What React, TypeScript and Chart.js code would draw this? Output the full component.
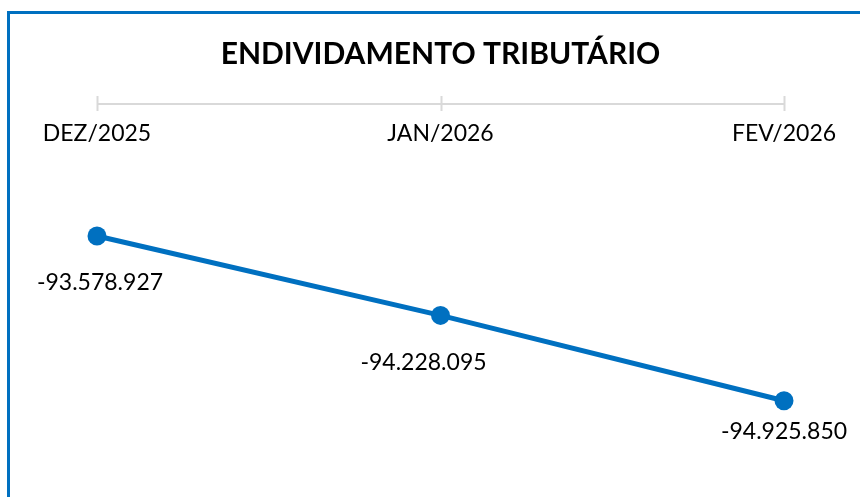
import React, { useEffect, useRef } from "react";
import { Chart, registerables } from "chart.js";

Chart.register(...registerables);

const TITLE = "ENDIVIDAMENTO TRIBUTÁRIO";
const categories = ["DEZ/2025", "JAN/2026", "FEV/2026"];
const debtValues = [-93578927, -94228095, -94925850];
const yMin = -95500000;
const yMax = -92500000;

const BLUE = "#0070C0";
const FONT = "Lato, 'Open Sans', sans-serif";

function formatBR(v: number): string {
  const neg = v < 0;
  const s = Math.round(Math.abs(v)).toString().replace(/\B(?=(\d{3})+(?!\d))/g, ".");
  return (neg ? "-" : "") + s;
}

const axisAndLabels = {
  id: "axisAndLabels",
  afterDatasetsDraw(chart: any, _args: any, opts: any) {
    const ctx = chart.ctx;
    const xs = chart.scales.x;
    const area = chart.chartArea;
    const axisY = area.top;
    const n = categories.length;
    const shifts: number[] = opts.labelShiftX || [];
    ctx.save();
    ctx.strokeStyle = "#D9D9D9";
    ctx.lineWidth = 2;
    ctx.beginPath();
    ctx.moveTo(xs.getPixelForValue(0), axisY);
    ctx.lineTo(xs.getPixelForValue(n - 1), axisY);
    ctx.stroke();
    for (let i = 0; i < n; i++) {
      const x = Math.round(xs.getPixelForValue(i)) + 0.5;
      ctx.beginPath();
      ctx.moveTo(x, axisY - 8);
      ctx.lineTo(x, axisY + 7);
      ctx.stroke();
    }
    ctx.fillStyle = "#000";
    ctx.font = `23px ${FONT}`;
    ctx.textAlign = "center";
    ctx.textBaseline = "middle";
    for (let i = 0; i < n; i++) {
      ctx.fillText(categories[i], xs.getPixelForValue(i), axisY + 30);
    }
    const meta = chart.getDatasetMeta(0);
    const maxY = chart.height - 65;
    meta.data.forEach((pt: any, i: number) => {
      const y = Math.min(pt.y + 47, maxY);
      ctx.fillText(formatBR(debtValues[i]), pt.x + (shifts[i] || 0), y);
    });
    ctx.restore();
  },
};

export default function App() {
  const ref = useRef<HTMLCanvasElement | null>(null);

  useEffect(() => {
    if (!ref.current) return;
    const chart = new Chart(ref.current, {
      type: "line",
      data: {
        labels: categories,
        datasets: [
          {
            label: TITLE,
            data: debtValues,
            borderColor: BLUE,
            backgroundColor: BLUE,
            borderWidth: 5,
            pointRadius: 9.5,
            pointBackgroundColor: BLUE,
            pointBorderWidth: 0,
            pointHoverRadius: 9.5,
            tension: 0,
            clip: false as any,
          },
        ],
      },
      options: {
        animation: false,
        responsive: false,
        maintainAspectRatio: false,
        devicePixelRatio: 1,
        layout: { padding: { left: 97, right: 76, top: 0, bottom: 26 } },
        scales: {
          x: { display: false },
          y: { display: false, min: yMin, max: yMax },
        },
        plugins: {
          legend: { display: false },
          tooltip: { enabled: false },
          title: {
            display: true,
            text: TITLE,
            color: "#000",
            font: { family: FONT, size: 30, weight: "bold", lineHeight: 1.2 },
            padding: { top: 36, bottom: 32 },
          },
          axisAndLabels: { labelShiftX: [3, -17, 0] },
        } as any,
      },
      plugins: [axisAndLabels],
    });
    return () => chart.destroy();
  }, []);

  return (
    <div style={{ position: "fixed", left: 0, top: 0, width: 860, height: 497, background: "#fff", overflow: "hidden" }}>
      <div
        style={{
          position: "absolute",
          left: 7,
          top: 11,
          width: 900,
          height: 600,
          borderLeft: `3px solid ${BLUE}`,
          borderTop: `3px solid ${BLUE}`,
          pointerEvents: "none",
        }}
      />
      <canvas ref={ref} width={860} height={497} style={{ position: "absolute", left: 0, top: 0, width: 860, height: 497 }} />
    </div>
  );
}
